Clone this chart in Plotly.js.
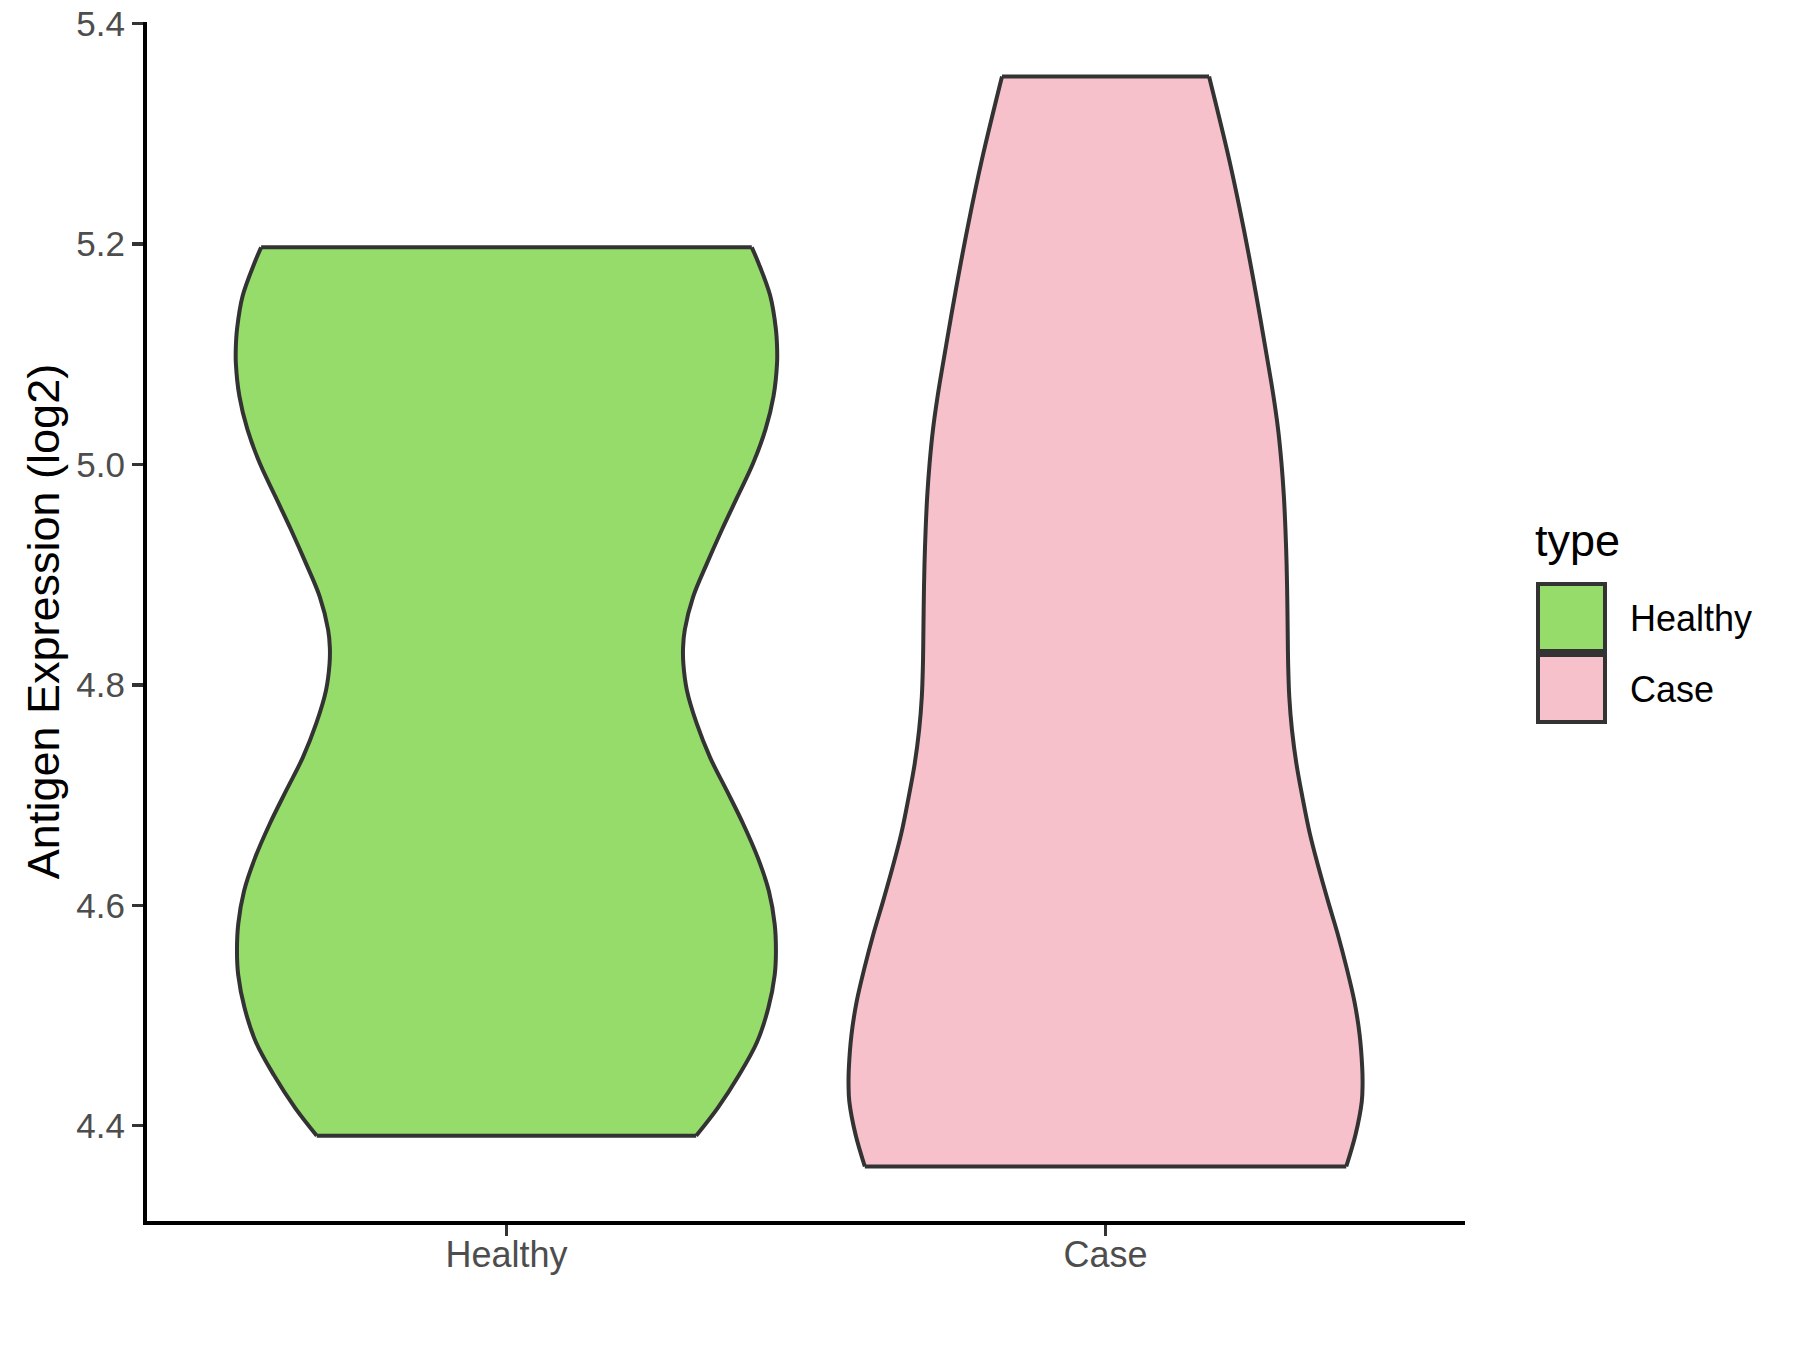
<!DOCTYPE html>
<html>
<head>
<meta charset="utf-8">
<script src="https://cdn.plot.ly/plotly-3.0.1.min.js"></script>
<style>html,body{margin:0;padding:0;background:#fff;}#chart{width:1800px;height:1350px;}</style>
</head>
<body>
<div id="chart"></div>
<script>
// ---- data ----
const categories = ['Healthy', 'Case'];
const legendTitle = 'type';
const yAxisTitle = 'Antigen Expression (log2)';

// violin outline: expression level and half-width of the density (x units)
const healthyY = [5.197, 5.183, 5.153, 5.123, 5.107, 5.092, 5.062, 5.032, 5.001, 4.971, 4.941, 4.910, 4.880, 4.850, 4.834, 4.819, 4.795, 4.765, 4.734, 4.704, 4.674, 4.643, 4.613, 4.583, 4.558, 4.537, 4.507, 4.476, 4.446, 4.416, 4.391];
const healthyHalfWidth = [0.4095, 0.4205, 0.4403, 0.4497, 0.4517, 0.4517, 0.4458, 0.4325, 0.4117, 0.3858, 0.3598, 0.3345, 0.3117, 0.2977, 0.2948, 0.2953, 0.3012, 0.3175, 0.3400, 0.3678, 0.3950, 0.4197, 0.4380, 0.4477, 0.4498, 0.4478, 0.4372, 0.4183, 0.3883, 0.3525, 0.3167];

const caseY = [5.352, 5.277, 5.217, 5.156, 5.095, 5.063, 5.032, 5.001, 4.971, 4.941, 4.910, 4.880, 4.850, 4.819, 4.789, 4.759, 4.728, 4.698, 4.665, 4.634, 4.604, 4.574, 4.543, 4.513, 4.483, 4.452, 4.437, 4.422, 4.392, 4.363];
const caseHalfWidth = [0.1728, 0.2062, 0.2295, 0.2507, 0.2702, 0.2800, 0.2880, 0.2937, 0.2977, 0.3003, 0.3022, 0.3033, 0.3040, 0.3048, 0.3067, 0.3112, 0.3187, 0.3287, 0.3410, 0.3557, 0.3712, 0.3875, 0.4025, 0.4153, 0.4240, 0.4285, 0.4290, 0.4277, 0.4173, 0.4018];

const yTickVals = [4.4, 4.6, 4.8, 5.0, 5.2, 5.4];
const yTickText = ['4.4', '4.6', '4.8', '5.0', '5.2', '5.4'];

// ---- styles ----
const fillColors = ['#95DC6A', '#F7C1CC'];
const outlineColor = '#333333';
const FONT = 'Liberation Sans, Arial, Helvetica, sans-serif';

const groups = [
  {name: categories[0], y: healthyY, w: healthyHalfWidth},
  {name: categories[1], y: caseY, w: caseHalfWidth}
];

const traces = [];
groups.forEach((g, i) => {
  const xc = i + 1;
  const right = g.w.map(w => xc + w);
  const left = g.w.map(w => xc - w);
  const n = g.y.length;
  // fill
  traces.push({
    type: 'scatter', mode: 'lines', name: g.name,
    x: right.concat(left.slice().reverse()),
    y: g.y.concat(g.y.slice().reverse()),
    fill: 'toself', fillcolor: fillColors[i],
    line: {width: 0, color: fillColors[i]},
    hoverinfo: 'skip', showlegend: false
  });
  // smooth sides
  [right, left].forEach(side => {
    traces.push({
      type: 'scatter', mode: 'lines',
      x: side, y: g.y,
      line: {color: outlineColor, width: 4, shape: 'spline', smoothing: 1},
      hoverinfo: 'skip', showlegend: false
    });
  });
  // flat top and bottom
  traces.push({
    type: 'scatter', mode: 'lines',
    x: [left[0], right[0], null, left[n - 1], right[n - 1]],
    y: [g.y[0], g.y[0], null, g.y[n - 1], g.y[n - 1]],
    line: {color: outlineColor, width: 4},
    hoverinfo: 'skip', showlegend: false
  });
});

// y range as ggplot: data range expanded by 5%
const allY = healthyY.concat(caseY);
const lo = Math.min(...allY), hi = Math.max(...allY);
const pad = 0.05 * (hi - lo);

// panel geometry in pixels
const W = 1800, H = 1350;
const L = 147, R = 1465, T = 22, B = 1221;
const xp = px => (px - L) / (R - L);
const yp = py => (B - py) / (B - T);

const shapes = [];
const annotations = [];
// manual ggplot-style legend
annotations.push({
  xref: 'paper', yref: 'paper', x: xp(1533), y: yp(540), xanchor: 'left', yanchor: 'middle',
  text: legendTitle, showarrow: false, font: {family: FONT, size: 45, color: '#000000'}
});
const keyTops = [584, 655];
categories.forEach((c, i) => {
  const top = keyTops[i];
  shapes.push({
    type: 'rect', xref: 'paper', yref: 'paper',
    x0: xp(1538), x1: xp(1605), y0: yp(top), y1: yp(top + 67),
    fillcolor: fillColors[i], line: {color: outlineColor, width: 4}
  });
  annotations.push({
    xref: 'paper', yref: 'paper', x: xp(1628), y: yp(top + 34), xanchor: 'left', yanchor: 'middle',
    text: c, showarrow: false, font: {family: FONT, size: 36, color: '#000000'}
  });
});

const layout = {
  width: W, height: H,
  margin: {l: L, r: W - R, t: T, b: H - B, pad: 0},
  paper_bgcolor: '#ffffff', plot_bgcolor: '#ffffff',
  showlegend: false,
  font: {family: FONT},
  xaxis: {
    range: [0.4, 2.6], tickvals: [1, 2], ticktext: categories,
    showgrid: false, zeroline: false,
    showline: true, linecolor: '#000000', linewidth: 4,
    ticks: 'outside', ticklen: 11, tickwidth: 3.5, tickcolor: '#333333',
    tickfont: {family: FONT, size: 36, color: '#4D4D4D'},
    ticklabelstandoff: -12,
    fixedrange: true
  },
  yaxis: {
    range: [lo - pad, hi + pad], tickvals: yTickVals, ticktext: yTickText,
    showgrid: false, zeroline: false,
    showline: true, linecolor: '#000000', linewidth: 4,
    ticks: 'outside', ticklen: 11, tickwidth: 3.5, tickcolor: '#333333',
    tickfont: {family: FONT, size: 35, color: '#4D4D4D'},
    ticklabelstandoff: 0,
    title: {text: yAxisTitle, font: {family: FONT, size: 45, color: '#000000'}, standoff: 4},
    fixedrange: true
  },
  shapes: shapes,
  annotations: annotations
};

Plotly.newPlot('chart', traces, layout, {displayModeBar: false, staticPlot: true});
</script>
</body>
</html>
